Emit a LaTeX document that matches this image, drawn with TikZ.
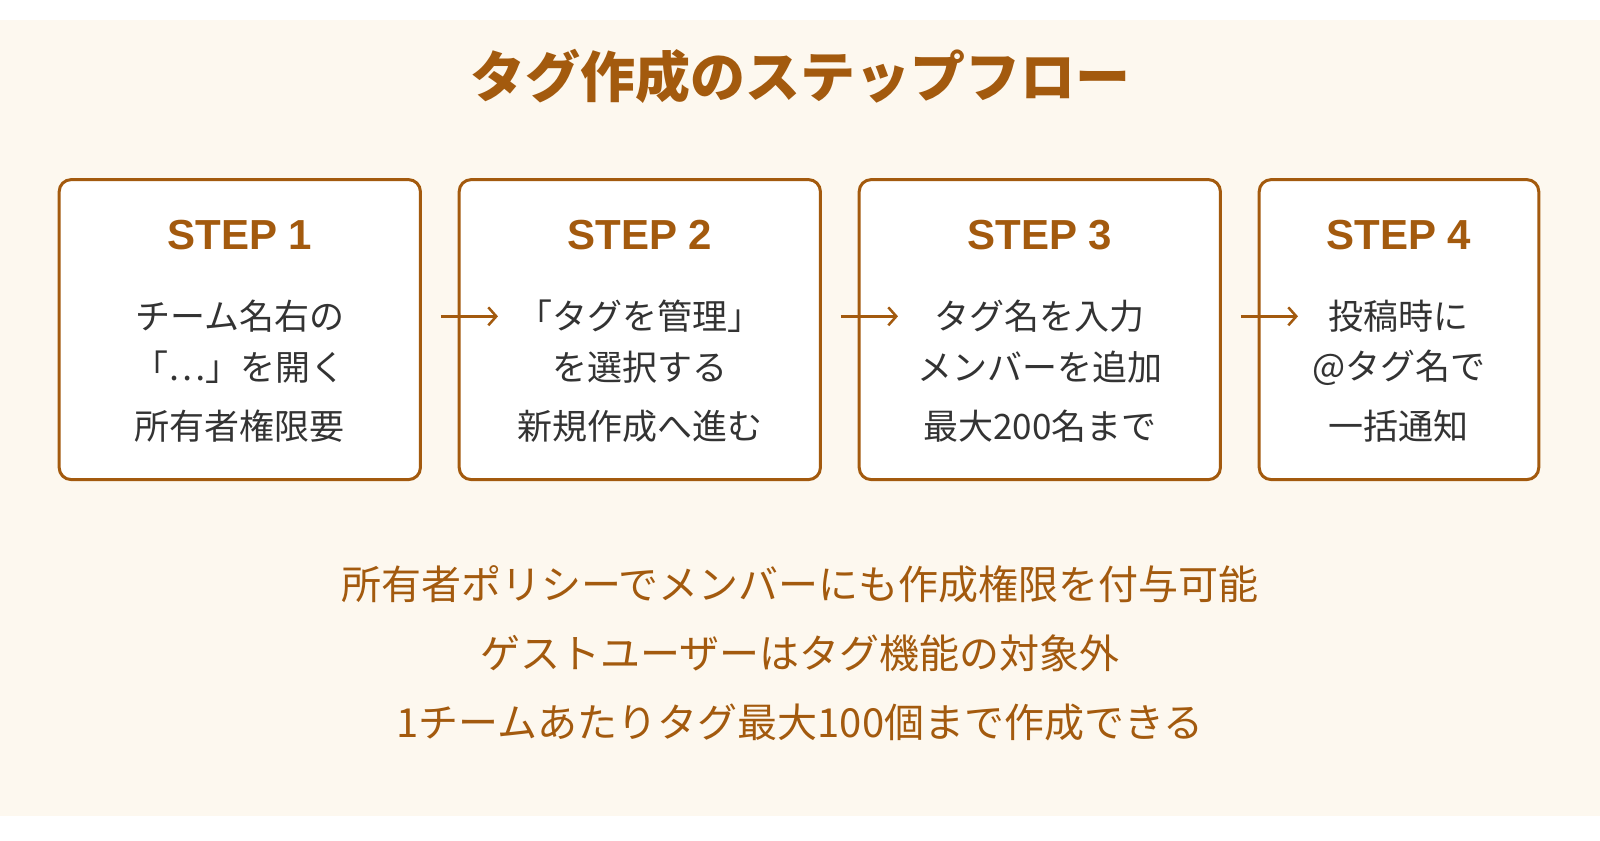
\documentclass[tikz,border=0pt]{standalone}
\usepackage{fontspec}
\setmainfont{Noto Sans CJK JP}
\newfontfamily\latinb{Liberation Sans}
\definecolor{brn}{HTML}{A35A0E}
\definecolor{bg}{HTML}{FDF8EF}
\definecolor{txt}{HTML}{333333}
\usetikzlibrary{arrows.meta}
\tikzset{
 stepbox/.style={draw=brn,line width=3pt,rounded corners=12pt,fill=white},
 steptitle/.style={text=brn,font=\latinb\bfseries\fontsize{42}{48}\selectfont},
 body/.style={text=txt,font=\fontsize{35}{40}\selectfont},
 note/.style={text=brn,font=\fontsize{40}{46}\selectfont},
 arr/.style={draw=brn,line width=2.5pt,-{Straight Barb[length=8pt,width=18pt]}},
}
\begin{document}
\begin{tikzpicture}[x=1.0204pt,y=-1.0204pt]
\useasboundingbox (0,0) rectangle (1568,823.2);
\fill[white] (0,0) rectangle (1568,823.2);
\fill[bg] (0,20) rectangle (1568,800);
\node[text=brn,font=\fontsize{55}{60}\selectfont\bfseries] (title) at (784,75) {タグ作成のステップフロー};
\foreach \i/\a/\b in {1/58/412,2/450/804,3/842/1196,4/1234/1508}{
 \draw[stepbox] (\a,176) rectangle (\b,470);
 \coordinate (b\i) at ({(\a+\b)/2},0);
 \coordinate (L\i) at (\a,310);
 \coordinate (R\i) at (\b,310);
}
\node[steptitle] (s1) at (b1 |- 0,230) {STEP 1};
\node[steptitle] (s2) at (b2 |- 0,230) {STEP 2};
\node[steptitle] (s3) at (b3 |- 0,230) {STEP 3};
\node[steptitle] (s4) at (b4 |- 0,230) {STEP 4};
\node[body] (t11) at (b1 |- 0,310) {チーム名右の};
\node[body] (t12) at (b1 |- 0,360) {「…」を開く};
\node[body] (t13) at (b1 |- 0,418) {所有者権限要};
\node[body] (t21) at (b2 |- 0,310) {「タグを管理」};
\node[body] (t22) at (b2 |- 0,360) {を選択する};
\node[body] (t23) at (b2 |- 0,418) {新規作成へ進む};
\node[body] (t31) at (b3 |- 0,310) {タグ名を入力};
\node[body] (t32) at (b3 |- 0,360) {メンバーを追加};
\node[body] (t33) at (b3 |- 0,418) {最大200名まで};
\node[body] (t41) at (b4 |- 0,310) {投稿時に};
\node[body] (t42) at (b4 |- 0,360) {@タグ名で};
\node[body] (t43) at (b4 |- 0,418) {一括通知};
\draw[arr] ([xshift=20.4pt]R1) -- ([xshift=38.8pt]L2);
\draw[arr] ([xshift=20.4pt]R2) -- ([xshift=38.8pt]L3);
\draw[arr] ([xshift=20.4pt]R3) -- ([xshift=38.8pt]L4);
\node[note] (n1) at (784,573) {所有者ポリシーでメンバーにも作成権限を付与可能};
\node[note] (n2) at (784,640) {ゲストユーザーはタグ機能の対象外};
\node[note] (n3) at (784,708) {1チームあたりタグ最大100個まで作成できる};
\end{tikzpicture}
\end{document}
